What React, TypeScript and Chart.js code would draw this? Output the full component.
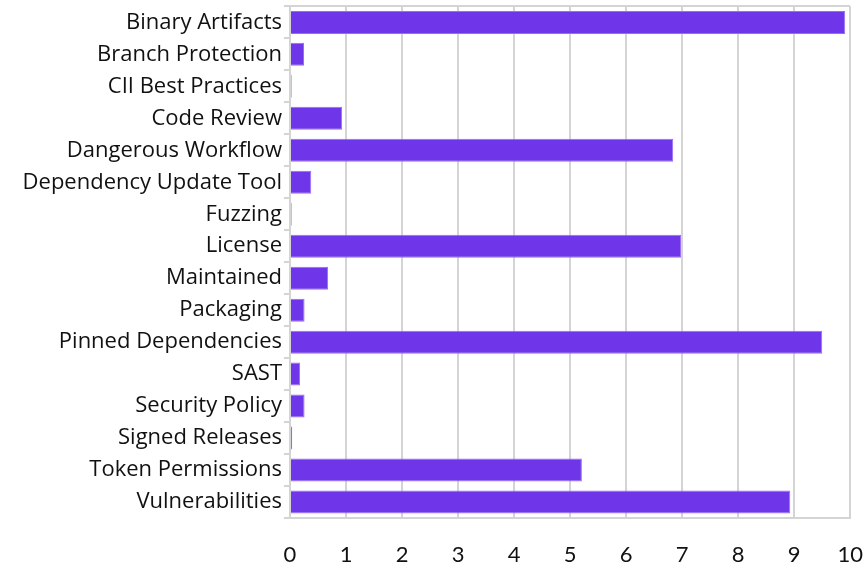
import React, { useEffect, useRef } from "react";
import { Chart, registerables } from "chart.js";

Chart.register(...registerables);

const categories = [
  "Binary Artifacts",
  "Branch Protection",
  "CII Best Practices",
  "Code Review",
  "Dangerous Workflow",
  "Dependency Update Tool",
  "Fuzzing",
  "License",
  "Maintained",
  "Packaging",
  "Pinned Dependencies",
  "SAST",
  "Security Policy",
  "Signed Releases",
  "Token Permissions",
  "Vulnerabilities",
];

const scores = [9.91, 0.25, 0.03, 0.93, 6.84, 0.38, 0.03, 6.98, 0.68, 0.26, 9.5, 0.18, 0.26, 0.04, 5.21, 8.93];

const xTicks = [0, 1, 2, 3, 4, 5, 6, 7, 8, 9, 10];

const LABEL_FONT = "'Open Sans', sans-serif";
const TICK_FONT = "Lato, 'Open Sans', sans-serif";
const GRID = "#d4d4d4";

export default function App() {
  const ref = useRef<HTMLCanvasElement | null>(null);
  useEffect(() => {
    if (!ref.current) return;
    const chart = new Chart(ref.current, {
      type: "bar",
      data: {
        labels: categories,
        datasets: [
          {
            data: scores,
            backgroundColor: "#6f35e8",
            borderColor: "#9a6cf3",
            borderWidth: 1,
          },
        ],
      },
      options: {
        indexAxis: "y",
        animation: false,
        responsive: false,
        maintainAspectRatio: false,
        layout: { padding: { top: 6, right: 12, left: 0, bottom: 0 } },
        plugins: { legend: { display: false }, tooltip: { enabled: false } },
        scales: {
          x: {
            min: 0,
            max: 10,
            afterBuildTicks: (s: any) => {
              s.ticks = xTicks.map((v) => ({ value: v }));
            },
            grid: {
              color: GRID,
              lineWidth: 2,
              drawTicks: true,
              tickLength: 24,
              tickColor: "rgba(0,0,0,0)",
            },
            border: { display: true, color: GRID, width: 2 },
            ticks: {
              padding: 0,
              color: "#111",
              font: { family: TICK_FONT, size: 22 },
              maxRotation: 0,
            },
            afterFit: (s: any) => {
              s.height = 50;
            },
          },
          y: {
            grid: {
              color: (ctx: any) =>
                ctx.index === 0 || ctx.index === categories.length ? GRID : "rgba(0,0,0,0)",
              tickColor: GRID,
              tickLength: 6,
              lineWidth: 2,
            },
            border: { display: true, color: GRID, width: 2 },
            ticks: {
              padding: 2,
              color: "#111",
              font: { family: LABEL_FONT, size: 22, lineHeight: 0.4 },
            },
            afterFit: (s: any) => {
              s.width = 290;
            },
          },
        },
      },
    });
    return () => chart.destroy();
  }, []);
  return (
    <div style={{ position: "fixed", left: 0, top: 0, width: 863, height: 568, background: "#fff" }}>
      <canvas ref={ref} width={863} height={568} />
    </div>
  );
}
